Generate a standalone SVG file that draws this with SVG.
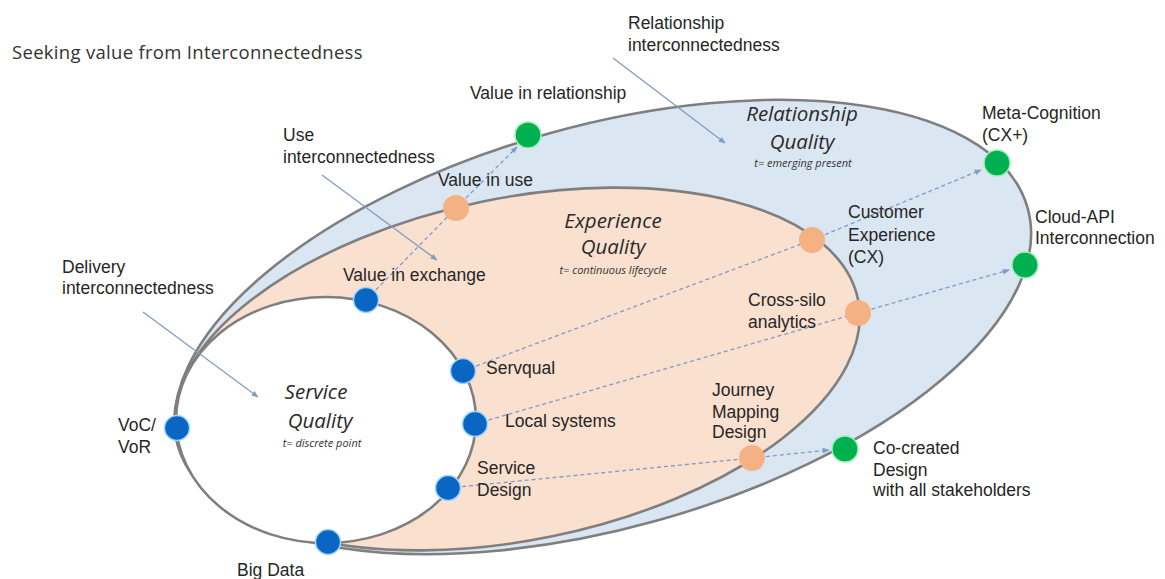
<svg xmlns="http://www.w3.org/2000/svg" width="1165" height="579" viewBox="0 0 1165 579">
  <style>
    .lbl { font-family: "Liberation Sans", Arial, sans-serif; font-size: 17.5px; fill: #262626; }
    .title { font-family: "Open Sans", "Liberation Sans", sans-serif; font-size: 18.5px; letter-spacing: 0.3px; fill: #333333; }
    .zone { font-family: "Open Sans", "Liberation Sans", sans-serif; font-style: italic; font-size: 20.5px; fill: #2a2a2a; text-anchor: middle; }
    .sub { font-family: "Open Sans", "Liberation Sans", sans-serif; font-style: italic; font-size: 11px; fill: #333333; text-anchor: middle; }
    .ring { stroke: #7f7f7f; stroke-width: 2.6; }
    .dash { fill: none; stroke: #7d9bc9; stroke-width: 1.3; stroke-dasharray: 4 3; }
    .ptr { fill: none; stroke: #7f9cc4; stroke-width: 1.3; }
    .blue { fill: #0a66c2; stroke: #9fd6ff; stroke-width: 1.5; }
    .orange { fill: #f4b183; }
    .green { fill: #00b050; stroke: #9cf0b4; stroke-width: 1.5; }
  </style>
  <defs>
    <marker id="tip" viewBox="0 0 10 10" refX="9" refY="5" markerWidth="7" markerHeight="7" orient="auto" markerUnits="userSpaceOnUse">
      <path d="M0,1 L10,5 L0,9 Z" fill="#7f9cc4"/>
    </marker>
  </defs>

  <rect width="1165" height="579" fill="#ffffff"/>

  <!-- nested quality zones -->
  <g id="relationship-quality">
    <ellipse class="ring" cx="603" cy="327" rx="441" ry="201" transform="rotate(-15.65 603 327)" fill="#dbe6f3"/>
  </g>
  <g id="experience-quality">
    <ellipse class="ring" cx="517" cy="369" rx="348" ry="171" transform="rotate(-11.5 517 369)" fill="#fae0cf"/>
  </g>
  <g id="service-quality">
    <ellipse class="ring" cx="326" cy="420" rx="150" ry="123" fill="#ffffff"/>
  </g>

  <text class="title" x="12" y="59">Seeking value from Interconnectedness</text>

  <!-- zone titles -->
  <g id="zone-labels">
    <text class="zone" x="802" y="121">Relationship</text>
    <text class="zone" x="802" y="149">Quality</text>
    <text class="sub" x="803" y="167">t= emerging present</text>
    <text class="zone" x="613" y="228">Experience</text>
    <text class="zone" x="613" y="254">Quality</text>
    <text class="sub" x="613" y="274">t= continuous lifecycle</text>
    <text class="zone" x="316" y="399">Service</text>
    <text class="zone" x="320" y="428">Quality</text>
    <text class="sub" x="322" y="447">t= discrete point</text>
  </g>

  <!-- connectors -->
  <g id="connectors">
    <path class="dash" d="M366,300 L456,208"/>
    <path class="dash" d="M456,208 L517,147" marker-end="url(#tip)"/>
    <path class="dash" d="M463,371 L812,240"/>
    <path class="dash" d="M812,240 L981,170" marker-end="url(#tip)"/>
    <path class="dash" d="M475,424 L858,313"/>
    <path class="dash" d="M858,313 L1009,270" marker-end="url(#tip)"/>
    <path class="dash" d="M448,488 L752,458"/>
    <path class="dash" d="M752,458 L829,450" marker-end="url(#tip)"/>
    <path class="ptr" d="M143,312 L258,397" marker-end="url(#tip)"/>
    <path class="ptr" d="M322,175 L437,260" marker-end="url(#tip)"/>
    <path class="ptr" d="M613,58 L725,143" marker-end="url(#tip)"/>
  </g>

  <!-- pointer captions -->
  <g id="delivery-note">
    <text class="lbl" x="62" y="273">Delivery</text>
    <text class="lbl" x="62" y="294">interconnectedness</text>
  </g>
  <g id="use-note">
    <text class="lbl" x="283" y="141">Use</text>
    <text class="lbl" x="283" y="163">interconnectedness</text>
  </g>
  <g id="relationship-note">
    <text class="lbl" x="628" y="29">Relationship</text>
    <text class="lbl" x="628" y="51">interconnectedness</text>
  </g>

  <!-- service quality points -->
  <g id="value-in-exchange">
    <circle class="blue" cx="366" cy="300" r="12.5"/>
    <text class="lbl" x="343" y="281">Value in exchange</text>
  </g>
  <g id="servqual">
    <circle class="blue" cx="463" cy="371" r="12.5"/>
    <text class="lbl" x="486" y="374">Servqual</text>
  </g>
  <g id="local-systems">
    <circle class="blue" cx="475" cy="424" r="12.5"/>
    <text class="lbl" x="505" y="427">Local systems</text>
  </g>
  <g id="service-design">
    <circle class="blue" cx="448" cy="488" r="12.5"/>
    <text class="lbl" x="477" y="474">Service</text>
    <text class="lbl" x="477" y="496">Design</text>
  </g>
  <g id="voc-vor">
    <circle class="blue" cx="177" cy="428" r="12.5"/>
    <text class="lbl" x="118" y="431">VoC/</text>
    <text class="lbl" x="118" y="453">VoR</text>
  </g>
  <g id="big-data">
    <circle class="blue" cx="328" cy="542" r="12.5"/>
    <text class="lbl" x="237" y="576">Big Data</text>
  </g>

  <!-- experience quality points -->
  <g id="value-in-use">
    <circle class="orange" cx="456" cy="208" r="13"/>
    <text class="lbl" x="438" y="186">Value in use</text>
  </g>
  <g id="customer-experience">
    <circle class="orange" cx="812" cy="240" r="13"/>
    <text class="lbl" x="848" y="218">Customer</text>
    <text class="lbl" x="848" y="241">Experience</text>
    <text class="lbl" x="848" y="263">(CX)</text>
  </g>
  <g id="cross-silo">
    <circle class="orange" cx="858" cy="313" r="13"/>
    <text class="lbl" x="748" y="306">Cross-silo</text>
    <text class="lbl" x="748" y="328">analytics</text>
  </g>
  <g id="journey-mapping">
    <circle class="orange" cx="752" cy="458" r="13"/>
    <text class="lbl" x="712" y="396">Journey</text>
    <text class="lbl" x="712" y="418">Mapping</text>
    <text class="lbl" x="712" y="438">Design</text>
  </g>

  <!-- relationship quality points -->
  <g id="value-in-relationship">
    <circle class="green" cx="528" cy="135" r="13"/>
    <text class="lbl" x="470" y="99">Value in relationship</text>
  </g>
  <g id="meta-cognition">
    <circle class="green" cx="997" cy="163" r="13"/>
    <text class="lbl" x="982" y="119">Meta-Cognition</text>
    <text class="lbl" x="982" y="141">(CX+)</text>
  </g>
  <g id="cloud-api">
    <circle class="green" cx="1025" cy="265" r="13"/>
    <text class="lbl" x="1035" y="223">Cloud-API</text>
    <text class="lbl" x="1035" y="244">Interconnection</text>
  </g>
  <g id="co-created">
    <circle class="green" cx="845" cy="449" r="13"/>
    <text class="lbl" x="873" y="454">Co-created</text>
    <text class="lbl" x="873" y="476">Design</text>
    <text class="lbl" x="873" y="496">with all stakeholders</text>
  </g>
</svg>
